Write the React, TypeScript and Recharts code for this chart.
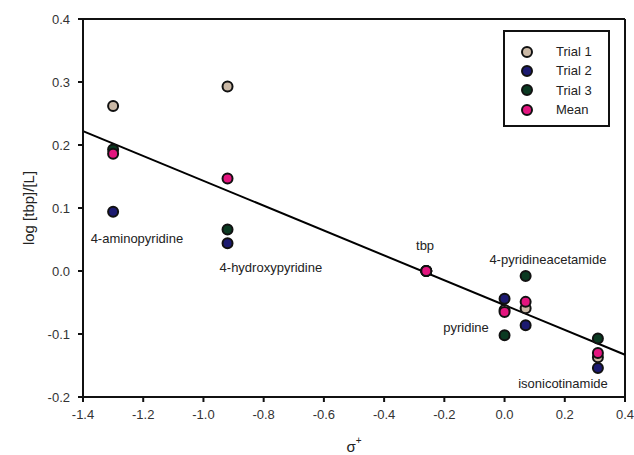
import React from "react";
import { ScatterChart, Scatter, XAxis, YAxis, ReferenceLine } from "recharts";

const compounds = ["4-aminopyridine", "4-hydroxypyridine", "tbp", "pyridine", "4-pyridineacetamide", "isonicotinamide"];
const sigmaPlus = [-1.3, -0.92, -0.26, 0.0, 0.07, 0.31];
const trial1 = [0.262, 0.293, 0.0, -0.062, -0.059, -0.137];
const trial2 = [0.094, 0.044, 0.0, -0.044, -0.086, -0.154];
const trial3 = [0.193, 0.066, 0.0, -0.102, -0.008, -0.107];
const mean = [0.186, 0.147, 0.0, -0.065, -0.049, -0.130];

const labelX = [-1.221, -0.776, -0.264, -0.128, 0.144, 0.194];
const labelY = [0.052, 0.006, 0.04, -0.089, 0.019, -0.179];

const fitLine = { x1: -1.4, y1: 0.222, x2: 0.4, y2: -0.133 };

const xTicks = [-1.4, -1.2, -1.0, -0.8, -0.6, -0.4, -0.2, 0.0, 0.2, 0.4];
const yTicks = [-0.2, -0.1, 0.0, 0.1, 0.2, 0.3, 0.4];

const seriesNames = ["Trial 1", "Trial 2", "Trial 3", "Mean"];
const seriesColors = ["#cbb9a6", "#1c1a70", "#0b3a22", "#e3157f"];
const seriesValues = [trial1, trial2, trial3, mean];

const toPoints = (vals: number[]) => sigmaPlus.map((x, i) => ({ x, y: vals[i], name: compounds[i] }));
const labelPoints = compounds.map((name, i) => ({ x: labelX[i], y: labelY[i], name }));

const FONT = "'Liberation Sans', Arial, sans-serif";

const Dot = (color: string) => (props: any) => {
  const { cx, cy } = props;
  if (cx == null || cy == null) return null;
  return <circle cx={cx} cy={cy} r={5} fill={color} stroke="#111" strokeWidth={2} />;
};

const LabelShape = (props: any) => {
  const { cx, cy, payload } = props;
  return (
    <text x={cx} y={cy} textAnchor="middle" dominantBaseline="central" fontFamily={FONT} fontSize={13} fill="#222">
      {payload.name}
    </text>
  );
};

const LegendBox = () => (
  <div style={{ position: "absolute", left: 503, top: 30, width: 107, height: 97, border: "2px solid #111", background: "#fff", fontFamily: FONT, fontSize: 13, color: "#222", boxSizing: "border-box", paddingTop: 10 }}>
    {seriesNames.map((n, i) => (
      <div key={n} style={{ display: "flex", alignItems: "center", height: 19.3 }}>
        <svg width={51} height={14} style={{ display: "block" }}>
          <circle cx={22} cy={7} r={5} fill={seriesColors[i]} stroke="#111" strokeWidth={2} />
        </svg>
        <span>{n}</span>
      </div>
    ))}
  </div>
);

export default function App() {
  return (
    <div style={{ position: "absolute", left: 0, top: 0, width: 634, height: 455, background: "#fff" }}>
      <ScatterChart width={634} height={455} margin={{ top: 19, right: 9, bottom: 18, left: 21 }}>
        <XAxis
          type="number"
          dataKey="x"
          domain={[-1.4, 0.4]}
          ticks={xTicks}
          tickFormatter={(v: number) => v.toFixed(1)}
          axisLine={{ stroke: "#111", strokeWidth: 2 }}
          tickLine={{ stroke: "#111", strokeWidth: 2 }}
          tickSize={5}
          tickMargin={8}
          tick={{ fontFamily: FONT, fontSize: 13, fill: "#333" }}
          height={40}
          label={(p: any) => {
            const vb = p.viewBox || {};
            const cx = (vb.x || 83) + (vb.width || 542) / 2;
            const cy = (vb.y || 397) + 55;
            return (
              <text x={cx} y={cy} textAnchor="middle" fontFamily={FONT} fontSize={15} fill="#222">
                σ<tspan dy={-8} fontSize={10}>+</tspan>
              </text>
            );
          }}
        />
        <YAxis
          type="number"
          dataKey="y"
          domain={[-0.2, 0.4]}
          ticks={yTicks}
          tickFormatter={(v: number) => v.toFixed(1)}
          axisLine={{ stroke: "#111", strokeWidth: 2 }}
          tickLine={{ stroke: "#111", strokeWidth: 2 }}
          tickSize={5}
          tickMargin={8}
          tick={{ fontFamily: FONT, fontSize: 13, fill: "#333" }}
          width={62}
          label={{ value: "log [tbp]/[L]", angle: -90, position: "insideLeft", offset: 8, style: { fontFamily: FONT, fontSize: 15, fill: "#222", textAnchor: "middle" } }}
        />
        <ReferenceLine y={0.4} stroke="#111" strokeWidth={2} />
        <ReferenceLine x={0.4} stroke="#111" strokeWidth={2} />
        <ReferenceLine
          segment={[{ x: fitLine.x1, y: fitLine.y1 }, { x: fitLine.x2, y: fitLine.y2 }]}
          stroke="#000"
          strokeWidth={2}
        />
        {seriesValues.map((vals, i) => (
          <Scatter key={seriesNames[i]} name={seriesNames[i]} data={toPoints(vals)} shape={Dot(seriesColors[i])} isAnimationActive={false} />
        ))}
        <Scatter name="labels" data={labelPoints} shape={LabelShape} isAnimationActive={false} legendType="none" />
      </ScatterChart>
      <LegendBox />
    </div>
  );
}
